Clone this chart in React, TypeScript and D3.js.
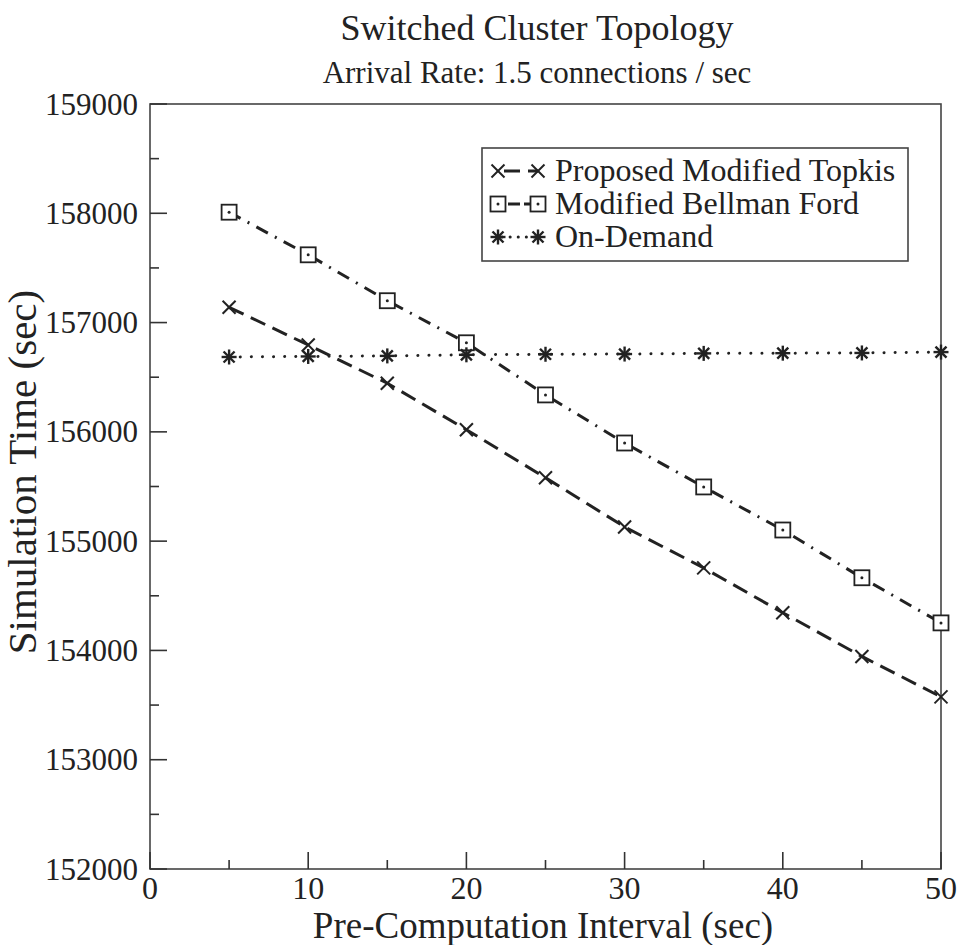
import React from "react";
import * as d3 from "d3";

const intervals = [5, 10, 15, 20, 25, 30, 35, 40, 45, 50];
const topkis = [157140, 156795, 156445, 156020, 155580, 155130, 154755, 154345, 153945, 153575];
const bellman = [158010, 157620, 157200, 156815, 156338, 155898, 155496, 155102, 154665, 154252];
const onDemand = [156685, 156690, 156695, 156705, 156710, 156712, 156718, 156720, 156722, 156730];
const xTicks = [0, 10, 20, 30, 40, 50];
const xMinor = [5, 15, 25, 35, 45];
const yTicks = [152000, 153000, 154000, 155000, 156000, 157000, 158000, 159000];
const yMinor = [152500, 153500, 154500, 155500, 156500, 157500, 158500];
const legendLabels = ["Proposed Modified Topkis", "Modified Bellman Ford", "On-Demand"];

const W = 964, H = 945;
const L = 150, R = 941, T = 104, B = 869;
const FONT = "'Liberation Serif', Tinos, 'Times New Roman', Times, serif";
const INK = "#222";

type Kind = "x" | "sq" | "star";

function Marker({ kind, cx, cy }: { kind: Kind; cx: number; cy: number }) {
  if (kind === "x") {
    const s = 6.5;
    return (
      <g stroke={INK} strokeWidth={2}>
        <line x1={cx - s} y1={cy - s} x2={cx + s} y2={cy + s} />
        <line x1={cx - s} y1={cy + s} x2={cx + s} y2={cy - s} />
      </g>
    );
  }
  if (kind === "sq") {
    const s = 7.5;
    return (
      <g>
        <rect x={cx - s} y={cy - s} width={2 * s} height={2 * s} fill="white" stroke={INK} strokeWidth={1.8} />
        <circle cx={cx} cy={cy} r={1.5} fill={INK} />
      </g>
    );
  }
  const s = 7.5, d = 5.5;
  return (
    <g stroke={INK} strokeWidth={2.4}>
      <line x1={cx} y1={cy - s} x2={cx} y2={cy + s} />
      <line x1={cx - s} y1={cy} x2={cx + s} y2={cy} />
      <line x1={cx - d} y1={cy - d} x2={cx + d} y2={cy + d} />
      <line x1={cx - d} y1={cy + d} x2={cx + d} y2={cy - d} />
    </g>
  );
}

export default function App() {
  const x = d3.scaleLinear().domain([0, 50]).range([L, R]);
  const y = d3.scaleLinear().domain([152000, 159000]).range([B, T]);
  const line = d3
    .line<[number, number]>()
    .x((d) => x(d[0]))
    .y((d) => y(d[1]));

  const series: { vals: number[]; kind: Kind; dash: string; cap: "butt" | "round" }[] = [
    { vals: topkis, kind: "x", dash: "16 8", cap: "butt" },
    { vals: bellman, kind: "sq", dash: "13 8 2 8", cap: "butt" },
    { vals: onDemand, kind: "star", dash: "0.1 11", cap: "round" },
  ];

  const legendBaselines = [181, 214, 247];

  return (
    <svg
      width={W}
      height={H}
      viewBox={`0 0 ${W} ${H}`}
      style={{ position: "absolute", left: 0, top: 0, background: "white", display: "block", fontFamily: FONT }}
    >
      <rect x={0} y={0} width={W} height={H} fill="white" />
      <text x={537} y={40} fontSize={36} textAnchor="middle" fill={INK}>
        Switched Cluster Topology
      </text>
      <text x={537} y={83} fontSize={31} textAnchor="middle" fill={INK}>
        Arrival Rate: 1.5 connections / sec
      </text>

      {/* frame */}
      <rect x={L} y={T} width={R - L} height={B - T} fill="none" stroke="#444" strokeWidth={1.6} />

      {/* y ticks */}
      {yTicks.map((t) => (
        <g key={"yt" + t}>
          <line x1={L} x2={L + 17} y1={y(t)} y2={y(t)} stroke="#333" strokeWidth={1.6} />
          <text x={138} y={y(t)} fontSize={31} textAnchor="end" dominantBaseline="central" fill={INK}>
            {t}
          </text>
        </g>
      ))}
      {yMinor.map((t) => (
        <line key={"ym" + t} x1={L} x2={L + 9} y1={y(t)} y2={y(t)} stroke="#333" strokeWidth={1.6} />
      ))}

      {/* x ticks */}
      {xTicks.map((t) => (
        <g key={"xt" + t}>
          <line x1={x(t)} x2={x(t)} y1={B} y2={B - 17} stroke="#333" strokeWidth={1.6} />
          <text x={x(t)} y={899} fontSize={32} textAnchor="middle" fill={INK}>
            {t}
          </text>
        </g>
      ))}
      {xMinor.map((t) => (
        <line key={"xm" + t} x1={x(t)} x2={x(t)} y1={B} y2={B - 9} stroke="#333" strokeWidth={1.6} />
      ))}

      <text x={543} y={938} fontSize={37} textAnchor="middle" fill={INK}>
        Pre-Computation Interval (sec)
      </text>
      <text
        transform={`translate(36, 472) rotate(-90)`}
        fontSize={41}
        textAnchor="middle"
        fill={INK}
      >
        Simulation Time (sec)
      </text>

      {/* series lines */}
      {series.map((s, i) => (
        <path
          key={"p" + i}
          d={line(intervals.map((v, j) => [v, s.vals[j]] as [number, number])) || ""}
          fill="none"
          stroke={INK}
          strokeWidth={3}
          strokeDasharray={s.dash}
          strokeLinecap={s.cap}
        />
      ))}
      {series.map((s, i) =>
        intervals.map((v, j) => <Marker key={"m" + i + "-" + j} kind={s.kind} cx={x(v)} cy={y(s.vals[j])} />)
      )}

      {/* legend */}
      <rect x={482} y={148} width={426} height={113} fill="white" stroke="#444" strokeWidth={1.6} />
      {series.map((s, i) => {
        const yy = legendBaselines[i] - 10;
        return (
          <g key={"lg" + i}>
            <line
              x1={498}
              x2={538}
              y1={yy}
              y2={yy}
              stroke={INK}
              strokeWidth={3}
              strokeDasharray={i === 0 ? "16 8" : i === 1 ? "12 4" : "0.1 8"}
              strokeDashoffset={i === 0 ? -6 : i === 1 ? -10 : -4}
              strokeLinecap={s.cap}
            />
            <Marker kind={s.kind} cx={498} cy={yy} />
            <Marker kind={s.kind} cx={538} cy={yy} />
            <text x={555} y={legendBaselines[i]} fontSize={32} fill={INK}>
              {legendLabels[i]}
            </text>
          </g>
        );
      })}
    </svg>
  );
}
